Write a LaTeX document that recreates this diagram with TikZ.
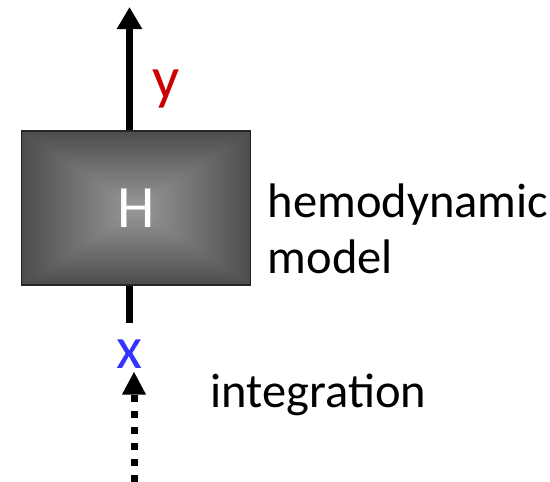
\documentclass[tikz,border=0pt]{standalone}
\usepackage{fontspec}
\setmainfont{Carlito}
\usetikzlibrary{arrows.meta}
\definecolor{boxedge}{gray}{0.30}
\definecolor{boxmid}{gray}{0.60}
\definecolor{yred}{HTML}{CC0000}
\definecolor{xblue}{HTML}{3333FF}
\tikzset{
  bigtxt/.style={inner sep=0pt, font=\fontsize{60}{72}\selectfont},
  captxt/.style={inner sep=0pt, anchor=base west, font=\fontsize{48.5}{56}\selectfont},
  wire/.style={line width=7.5pt},
  tipstyle/.style={-{Triangle[width=24pt,length=22pt]}},
}
\begin{document}
\begin{tikzpicture}[x=1pt,y=-1pt]
\useasboundingbox (0,0) rectangle (550,482);
% box shading (rectangular gradient from centre)
\coordinate (c) at (136.2,208);
\fill[boxedge] (21.7,131) rectangle (250.7,285);
\shade[top color=boxedge, bottom color=boxmid] (21.7,131) -- (250.7,131) -- (c) -- cycle;
\shade[bottom color=boxedge, top color=boxmid] (21.7,285) -- (250.7,285) -- (c) -- cycle;
\shade[left color=boxedge, right color=boxmid] (21.7,131) -- (21.7,285) -- (c) -- cycle;
\shade[right color=boxedge, left color=boxmid] (250.7,131) -- (250.7,285) -- (c) -- cycle;
\node[draw=black!85, line width=1.2pt, minimum width=229pt, minimum height=154pt, inner sep=0pt,
      text=white, font=\fontsize{60}{72}\selectfont] (H) at (c) {\raisebox{-5pt}{H}};
% output arrow
\coordinate (ytop) at (129.5,7);
\draw[wire, tipstyle] (ytop |- H.north) -- (ytop);
\node[bigtxt, text=yred, anchor=base west] (ylab) at (152,98) {y};
% input stub
\coordinate (xstub) at (129.5,323);
\draw[wire] (xstub |- H.south) -- (xstub);
\node[bigtxt, text=xblue, anchor=base] (xlab) at (129.5,368) {x};
% dotted input arrow
\coordinate (dbot) at (134,490);
\coordinate (dbase) at (134,394.5);
\coordinate (dtop) at (134,372);
\draw[line width=7pt, dash pattern=on 7pt off 9pt] (dbase) -- (dbot);
\fill (dtop) -- (122,394.5) -- (146,394.5) -- cycle;
% captions
\node[captxt] (hemo) at (267.5,217) {hemodynamic};
\node[captxt] (model) at (267.5,273) {model};
\node[captxt] (integ) at (210.5,407) {integration};
\end{tikzpicture}
\end{document}
